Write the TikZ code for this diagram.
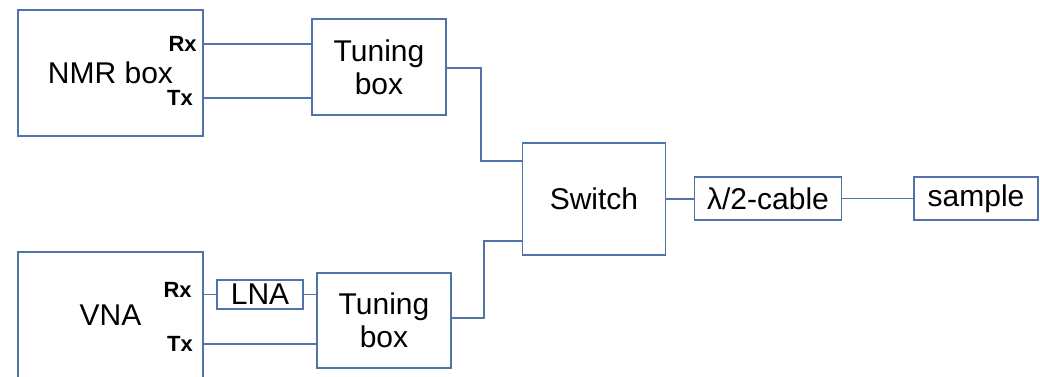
\documentclass[tikz,border=0pt]{standalone}
\usepackage{fontspec}
\setmainfont{Liberation Sans}
\usetikzlibrary{positioning, calc}
\definecolor{wireblue}{RGB}{80,115,170}
\tikzset{
    blockbox/.style={rectangle, draw=wireblue, line width=0.9pt, fill=white,
                     align=center, inner sep=2pt, font=\fontsize{22.5}{24.5}\selectfont},
    portlbl/.style={font=\bfseries\fontsize{16.5}{17}\selectfont, inner sep=0pt, anchor=east},
    wire/.style={draw=wireblue, line width=0.9pt},
}
\begin{document}
\begin{tikzpicture}[x=0.75pt, y=-0.75pt]
        \clip (0,0) rectangle (1040,377);
        % instruments
        \node[blockbox, minimum width=138.75pt, minimum height=94.5pt] (nmr) at (110.5,73) {NMR box};
        \node[blockbox, minimum width=138.75pt, minimum height=94.5pt] (vna) at (110.5,315) {VNA};
        \node[portlbl] (nmrrx) at (197,44) {Rx};
        \node[portlbl] (nmrtx) at (193,98) {Tx};
        \node[portlbl] (vnarx) at (192,290) {Rx};
        \node[portlbl] (vnatx) at (193,344) {Tx};
        % tuning and switching
        \node[blockbox, minimum width=100.5pt, minimum height=72pt] (tune1) at (379,67) {Tuning\\box};
        \node[blockbox, minimum width=100.5pt, minimum height=71.25pt] (tune2) at (384,320.5) {Tuning\\box};
        \node[blockbox, minimum width=64.5pt, minimum height=21.75pt, inner sep=0pt] (lna) at (260,294.5) {LNA};
        \node[blockbox, minimum width=107.25pt, minimum height=84pt] (switch) at (594,199) {Switch};
        \node[blockbox, minimum width=110.25pt, minimum height=32.25pt] (cable) at (768,198.5) {λ/2-cable};
        \node[blockbox, minimum width=93pt, minimum height=32.25pt] (sample) at (976,198.5) {sample};
        \coordinate (bend1) at (481,68);
        \coordinate (bend2) at (484,318);
        % connections
        \draw[wire] (nmrrx -| nmr.east) -- (nmrrx -| tune1.west);
        \draw[wire] (nmrtx -| nmr.east) -- (nmrtx -| tune1.west);
        \draw[wire] (lna -| vna.east) -- (lna.west);
        \draw[wire] (lna.east) -- (lna -| tune2.west);
        \draw[wire] (vnatx -| vna.east) -- (vnatx -| tune2.west);
        \draw[wire] (bend1 -| tune1.east) -- (bend1) |- ([yshift=28.5pt]switch.west);
        \draw[wire] (bend2 -| tune2.east) -- (bend2) |- ([yshift=-31.5pt]switch.west);
        \draw[wire] (switch.east) -- (switch -| cable.west);
        \draw[wire] (cable.east) -- (sample.west);
    \end{tikzpicture}
\end{document}
